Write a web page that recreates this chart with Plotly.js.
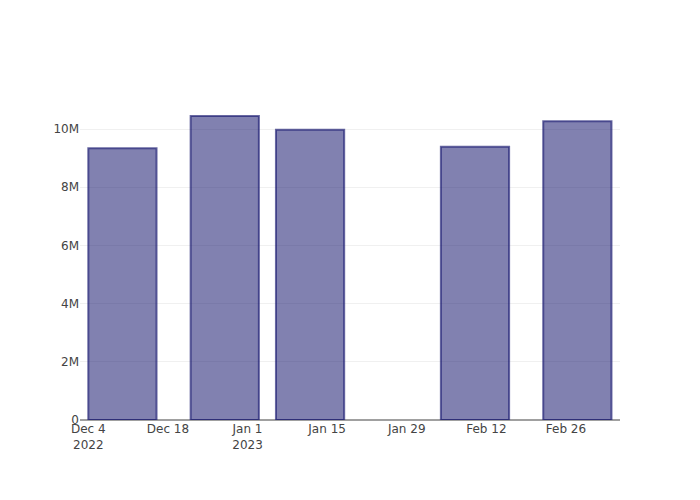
<!DOCTYPE html>
<html>
<head>
<meta charset="utf-8">
<script src="https://cdn.plot.ly/plotly-3.0.1.min.js"></script>
<style>html,body{margin:0;padding:0;background:#fff;}#chart{width:700px;height:500px;}</style>
</head>
<body>
<div id="chart"></div>
<script>
const dates = ['2022-12-10', '2022-12-28', '2023-01-12', '2023-02-10', '2023-02-28'];
const values = [9340000, 10450000, 9980000, 9390000, 10270000];
const xRange = ['2022-12-02 13:00', '2023-03-07 12:00'];

const trace = {
  type: 'bar',
  x: dates,
  y: values,
  marker: {
    color: 'rgba(25,25,112,0.55)',
    line: {color: 'rgba(25,25,112,0.65)', width: 2}
  },
  hoverinfo: 'x+y'
};

const layout = {
  width: 700,
  height: 500,
  margin: {l: 80, r: 80, t: 100, b: 80},
  paper_bgcolor: '#ffffff',
  plot_bgcolor: '#ffffff',
  font: {family: 'DejaVu Sans, sans-serif', size: 12, color: '#444'},
  showlegend: false,
  bargap: 0.2,
  xaxis: {
    type: 'date',
    range: xRange,
    showgrid: false,
    showline: false,
    ticks: '',
    dtick: 14 * 86400000,
    tick0: '2022-12-04',
    zeroline: false
  },
  yaxis: {
    dtick: 2000000,
    gridcolor: '#f0f0f0',
    gridwidth: 1,
    zeroline: true,
    zerolinecolor: '#a0a0a0',
    zerolinewidth: 2,
    showline: false,
    ticks: ''
  }
};

Plotly.newPlot('chart', [trace], layout, {displayModeBar: false, staticPlot: true});
</script>
</body>
</html>
